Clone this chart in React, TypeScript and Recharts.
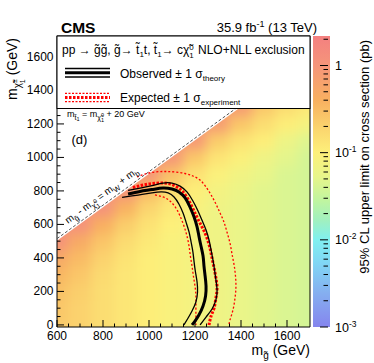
import React from 'react';
import { ComposedChart, XAxis, YAxis, Scatter, Line, Area, Bar, ReferenceLine, ReferenceArea } from 'recharts';

const FONT = "'Liberation Sans', Arial, Helvetica, sans-serif";

// ---------------- axes ----------------
const xMajorTicks = [600, 800, 1000, 1200, 1400, 1600];
const xMinorTicks = [650, 700, 750, 850, 900, 950, 1050, 1100, 1150, 1250, 1300, 1350, 1450, 1500, 1550, 1650];
const yMajorTicks = [0, 200, 400, 600, 800, 1000, 1200, 1400, 1600];
const yMinorTicks = [50, 100, 150, 250, 300, 350, 450, 500, 550, 650, 700, 750, 850, 900, 950, 1050, 1100, 1150, 1250, 1300, 1350, 1450, 1500, 1550, 1650, 1700];
const cbMajorTicks = [0.001, 0.01, 0.1, 1];
const cbMinorTicks = [0.002, 0.003, 0.004, 0.005, 0.006, 0.007, 0.008, 0.009, 0.02, 0.03, 0.04, 0.05, 0.06, 0.07, 0.08, 0.09, 0.2, 0.3, 0.4, 0.5, 0.6, 0.7, 0.8, 0.9, 2];
const cbMajorLabels = ['-3', '-2', '-1', '1'];

// ---------------- colour palette (log10 of limit in pb) ----------------
const paletteLog = [-3, -2.6, -2.25, -2, -1.78, -1.55, -1.27, -1, -0.75, -0.4, 0, 0.34];
const paletteColor = ['#8585EE', '#85B0F0', '#80D8F5', '#80F0F0', '#A0F0C0', '#C0F5A0', '#E8F58A', '#FDF07A', '#FBD870', '#F8B060', '#F5957A', '#F48080'];
const cbRangePb = [0.001, 2.18];

// ---------------- upper-limit map (log10 pb), read at 100 GeV nodes ----------------
const heatX = [600, 700, 800, 900, 1000, 1100, 1200, 1300, 1400, 1500, 1600, 1700];
const heatY = [0, 100, 200, 300, 400, 500, 600, 700, 800, 900, 1000, 1100, 1200, 1300];
const heatLog10: (number | null)[][] = [
  [-0.62, -0.7, -0.8, -0.9, -0.98, -1.05, -1.12, -1.18, -1.25, -1.31, -1.37, -1.42],
  [-0.6, -0.7, -0.8, -0.9, -0.98, -1.05, -1.12, -1.18, -1.25, -1.31, -1.37, -1.42],
  [-0.55, -0.67, -0.8, -0.9, -0.98, -1.05, -1.12, -1.18, -1.25, -1.31, -1.37, -1.42],
  [-0.45, -0.6, -0.77, -0.9, -0.98, -1.05, -1.12, -1.18, -1.25, -1.31, -1.37, -1.42],
  [-0.3, -0.5, -0.7, -0.86, -0.98, -1.05, -1.12, -1.18, -1.25, -1.31, -1.37, -1.42],
  [0.05, -0.33, -0.58, -0.78, -0.93, -1.05, -1.12, -1.18, -1.25, -1.31, -1.37, -1.42],
  [0.05, 0.05, -0.38, -0.65, -0.85, -1.0, -1.12, -1.18, -1.25, -1.31, -1.37, -1.42],
  [0.05, 0.05, 0.03, -0.43, -0.72, -0.92, -1.07, -1.18, -1.25, -1.31, -1.37, -1.42],
  [null, 0.05, 0.03, 0.0, -0.5, -0.78, -0.98, -1.13, -1.22, -1.31, -1.37, -1.42],
  [null, null, 0.03, 0.0, -0.03, -0.55, -0.84, -1.03, -1.15, -1.26, -1.37, -1.42],
  [null, null, null, 0.0, -0.03, -0.05, -0.6, -0.88, -1.02, -1.18, -1.3, -1.42],
  [null, null, null, null, -0.03, -0.05, -0.08, -0.65, -0.85, -0.98, -1.2, -1.34],
  [null, null, null, null, null, -0.05, -0.08, -0.12, -0.6, -0.8, -0.98, -1.1],
  [null, null, null, null, null, null, -0.08, -0.12, -0.12, -0.62, -0.8, -0.93],
];

// ---------------- kinematic boundary ----------------
const diagX = [600, 1700];
const diagY = [515, 1615];
const wedgeLow = [503, 1603];
const Y_TOP = 1725;
const Y_BOTTOM = -12.5;

// ---------------- contours ----------------
const obsX = [909, 961, 1013, 1061, 1100, 1130, 1157, 1178, 1196, 1209, 1217, 1226, 1235, 1239, 1244, 1248, 1246, 1235, 1217, 1200, 1187];
const obsY = [782, 797, 808, 817, 811, 794, 758, 704, 644, 585, 531, 471, 411, 352, 292, 232, 173, 113, 59, 23, 0];

const obsUpX = [909, 961, 1013, 1061, 1100, 1135, 1165, 1191, 1213, 1230, 1248, 1261, 1270, 1278, 1285, 1291, 1296, 1291, 1274, 1248, 1222];
const obsUpY = [803, 817, 832, 847, 847, 829, 794, 740, 680, 626, 567, 507, 447, 388, 328, 268, 208, 149, 95, 47, 0];

const obsDnX = [883, 926, 970, 1013, 1052, 1083, 1109, 1130, 1148, 1161, 1174, 1183, 1191, 1196, 1202, 1209, 1211, 1204, 1187, 1170, 1152];
const obsDnY = [761, 770, 779, 788, 794, 788, 764, 722, 668, 614, 555, 495, 435, 376, 316, 256, 196, 137, 83, 41, 0];

const expX = [930, 974, 1017, 1061, 1100, 1135, 1161, 1183, 1200, 1217, 1235, 1252, 1265, 1274, 1283, 1291, 1296, 1291, 1283, 1270, 1261];
const expY = [820, 835, 844, 847, 838, 811, 770, 716, 668, 620, 573, 519, 459, 399, 340, 280, 220, 161, 101, 53, 0];

const expUpX = [948, 983, 1026, 1070, 1113, 1157, 1191, 1222, 1248, 1270, 1291, 1309, 1326, 1339, 1352, 1361, 1370, 1376, 1378, 1374, 1365, 1352, 1348];
const expUpY = [883, 901, 913, 916, 913, 904, 889, 865, 823, 776, 722, 668, 614, 555, 489, 423, 358, 292, 226, 161, 89, 29, 0];

const expDnX = [1026, 1061, 1091, 1117, 1135, 1152, 1165, 1174, 1180, 1187, 1193, 1200, 1204, 1204, 1204, 1204];
const expDnY = [776, 764, 740, 698, 650, 591, 531, 471, 411, 352, 292, 232, 173, 113, 53, 0];

// ---------------- helpers ----------------
const LOG_MIN = Math.log10(cbRangePb[0]);
const LOG_MAX = Math.log10(cbRangePb[1]);
const PLOT_W = 253;
const PLOT_H = 291;
const KX = PLOT_W / 1100;
const KY = PLOT_H / (Y_TOP - Y_BOTTOM);

const hexToRgb = (h: string) => [parseInt(h.slice(1, 3), 16), parseInt(h.slice(3, 5), 16), parseInt(h.slice(5, 7), 16)];
function colorFor(v: number): string {
  if (v <= paletteLog[0]) return paletteColor[0];
  for (let i = 1; i < paletteLog.length; i++) {
    if (v <= paletteLog[i]) {
      const t = (v - paletteLog[i - 1]) / (paletteLog[i] - paletteLog[i - 1]);
      const a = hexToRgb(paletteColor[i - 1]);
      const b = hexToRgb(paletteColor[i]);
      const c = a.map((av, k) => Math.round(av + (b[k] - av) * t));
      return `rgb(${c[0]},${c[1]},${c[2]})`;
    }
  }
  return paletteColor[paletteColor.length - 1];
}

const heatCells: any[] = [];
heatY.forEach((y, r) => {
  heatX.forEach((x, c) => {
    const v = heatLog10[r][c];
    if (v === null) return;
    heatCells.push({
      x, y, v, color: colorFor(v),
      edgeL: c === 0, edgeR: c === heatX.length - 1, edgeB: r === 0, edgeT: r === heatY.length - 1,
    });
  });
});

const toPts = (xs: number[], ys: number[]) => xs.map((x, i) => ({ x, y: ys[i] }));
const obsData = toPts(obsX, obsY);
const obsUpData = toPts(obsUpX, obsUpY);
const obsDnData = toPts(obsDnX, obsDnY);
const expData = toPts(expX, expY);
const expUpData = toPts(expUpX, expUpY);
const expDnData = toPts(expDnX, expDnY);
const wedgeData = diagX.map((x, i) => ({ x, band: [wedgeLow[i], Y_TOP] }));
const cbData = [{ name: 'palette', range: [LOG_MIN, LOG_MAX] }];
const cbTickLogs = [...cbMajorTicks, ...cbMinorTicks].map((t) => Math.log10(t));

const renderHeatCell = (p: any) => {
  const d = p.payload;
  const hw = 50 * KX + 0.5;
  const hh = 50 * KY + 0.5;
  const x0 = p.cx - hw - (d.edgeL ? 30 : 0);
  const x1 = p.cx + hw + (d.edgeR ? 30 : 0);
  const y0 = p.cy - hh - (d.edgeT ? 30 : 0);
  const y1 = p.cy + hh + (d.edgeB ? 30 : 0);
  return <rect x={x0} y={y0} width={x1 - x0} height={y1 - y0} fill={d.color} stroke="none" />;
};

const XTick = (p: any) => {
  const v = p.payload.value;
  const major = xMajorTicks.includes(v);
  return (
    <g>
      <line x1={p.x} x2={p.x} y1={p.y} y2={p.y - (major ? 7 : 3.5)} stroke="#000" strokeWidth={1} />
      {major && (
        <text x={p.x} y={p.y + 13.2} textAnchor="middle" fontSize={12} fontFamily={FONT} fill="#000">{v}</text>
      )}
    </g>
  );
};

const YTick = (p: any) => {
  const v = p.payload.value;
  const major = yMajorTicks.includes(v);
  return (
    <g>
      <line x1={p.x} x2={p.x + (major ? 7 : 3.5)} y1={p.y} y2={p.y} stroke="#000" strokeWidth={1} />
      {major && (
        <text x={p.x - 3.5} y={p.y + 3.9} textAnchor="end" fontSize={12} fontFamily={FONT} fill="#000">{v}</text>
      )}
    </g>
  );
};

const CbTick = (p: any) => {
  const v: number = p.payload.value;
  const idx = cbMajorTicks.findIndex((t) => Math.abs(Math.log10(t) - v) < 1e-6);
  const major = idx >= 0;
  const lab = major ? cbMajorLabels[idx] : '';
  return (
    <g>
      <line x1={p.x - 2} x2={p.x - 2 - (major ? 8 : 4.5)} y1={p.y} y2={p.y} stroke="#000" strokeWidth={1} />
      {major && (lab === '1' ? (
        <text x={p.x + 5} y={p.y + 4.5} fontSize={12.5} fontFamily={FONT} fill="#000">1</text>
      ) : (
        <text x={p.x + 5} y={p.y + 4.5} fontSize={12.5} fontFamily={FONT} fill="#000">10<tspan dy={-5} fontSize={8.5}>{lab}</tspan></text>
      ))}
    </g>
  );
};

// gradient stops must be in increasing offset order (top of bar = highest limit)
const gradStops = paletteLog
  .map((l, i) => ({ offset: (LOG_MAX - l) / (LOG_MAX - LOG_MIN), color: paletteColor[i] }))
  .sort((a, b) => a.offset - b.offset);

export default function App() {
  const abs: React.CSSProperties = { position: 'absolute', left: 0, top: 0 };
  return (
    <div style={{ position: 'absolute', left: 0, top: 0, width: 374, height: 363, fontFamily: FONT, background: '#fff' }}>
      <style>{`.heat-layer { filter: blur(6px); }`}</style>

      {/* heat map (bottom layer) */}
      <div style={abs}>
        <ComposedChart width={374} height={363} margin={{ top: 36, right: 64, bottom: 36, left: 57 }}>
          <XAxis type="number" dataKey="x" domain={[600, 1700]} allowDataOverflow hide />
          <YAxis type="number" dataKey="y" domain={[Y_BOTTOM, Y_TOP]} allowDataOverflow hide />
          <Scatter data={heatCells} dataKey="y" className="heat-layer" shape={renderHeatCell} isAnimationActive={false} />
        </ComposedChart>
      </div>

      {/* colour bar */}
      <div style={abs}>
        <ComposedChart width={374} height={363} data={cbData} barCategoryGap={0} barGap={0} margin={{ top: 36, right: 0, bottom: 36, left: 313 }}>
          <defs>
            <linearGradient id="cbGrad" x1="0" y1="0" x2="0" y2="1">
              {gradStops.map((s, i) => (
                <stop key={i} offset={Math.max(0, Math.min(1, s.offset))} stopColor={s.color} />
              ))}
            </linearGradient>
          </defs>
          <XAxis type="category" dataKey="name" hide />
          <YAxis
            type="number" orientation="right" domain={[LOG_MIN, LOG_MAX]} allowDataOverflow
            ticks={cbTickLogs} interval={0} tick={(p: any) => <CbTick {...p} />}
            tickLine={false} axisLine={false} tickSize={0} tickMargin={0} width={44}
          />
          <Bar dataKey="range" fill="url(#cbGrad)" isAnimationActive={false} />
        </ComposedChart>
      </div>

      {/* contours, axes, frame */}
      <div style={abs}>
        <ComposedChart width={374} height={363} margin={{ top: 36, right: 64, bottom: 0, left: 0 }}>
          <Area data={wedgeData} dataKey="band" type="linear" stroke="none" fill="#ffffff" fillOpacity={1} isAnimationActive={false} />
          <ReferenceLine segment={[{ x: diagX[0], y: diagY[0] }, { x: diagX[1], y: diagY[1] }]} stroke="#555" strokeWidth={1} strokeDasharray="3 2" />
          <Line data={expUpData} dataKey="y" type="natural" stroke="#ff0000" strokeWidth={1.3} strokeDasharray="2 2" dot={false} isAnimationActive={false} />
          <Line data={expDnData} dataKey="y" type="natural" stroke="#ff0000" strokeWidth={1.3} strokeDasharray="2 2" dot={false} isAnimationActive={false} />
          <Line data={expData} dataKey="y" type="natural" stroke="#ff0000" strokeWidth={3} strokeDasharray="2.5 1.5" dot={false} isAnimationActive={false} />
          <Line data={obsUpData} dataKey="y" type="natural" stroke="#000" strokeWidth={1.3} dot={false} isAnimationActive={false} />
          <Line data={obsDnData} dataKey="y" type="natural" stroke="#000" strokeWidth={1.3} dot={false} isAnimationActive={false} />
          <Line data={obsData} dataKey="y" type="natural" stroke="#000" strokeWidth={3} dot={false} isAnimationActive={false} />
          <ReferenceArea x1={600} x2={1700} y1={Y_BOTTOM} y2={Y_TOP} fill="none" stroke="#000" strokeWidth={1} />
          <XAxis
            type="number" dataKey="x" domain={[600, 1700]} allowDataOverflow
            ticks={[...xMajorTicks, ...xMinorTicks]} interval={0} tick={(p: any) => <XTick {...p} />}
            tickLine={false} axisLine={false} tickSize={0} tickMargin={0} height={36}
          />
          <YAxis
            type="number" dataKey="y" domain={[Y_BOTTOM, Y_TOP]} allowDataOverflow
            ticks={[...yMajorTicks, ...yMinorTicks]} interval={0} tick={(p: any) => <YTick {...p} />}
            tickLine={false} axisLine={false} tickSize={0} tickMargin={0} width={57}
          />
        </ComposedChart>
      </div>

      {/* overlay: legend, titles, annotations */}
      <svg width={374} height={363} style={{ ...abs, pointerEvents: 'none' }} fontFamily={FONT}>
        <text x={61} y={33} fontSize={15.5} fontWeight="bold" fill="#000">CMS</text>
        <text x={317} y={32} fontSize={13} textAnchor="end" fill="#000">
          35.9 fb<tspan dy={-5} fontSize={9}>-1</tspan><tspan dy={5}> (13 TeV)</tspan>
        </text>

        <rect x={57} y={36} width={253} height={72.5} fill="#fff" stroke="#000" strokeWidth={1} />
        <text x={62} y={54} fontSize={12} fill="#000">
          pp → g̃g̃, g̃→ t̃<tspan dy={3} fontSize={8}>1</tspan><tspan dy={-3}>t, t̃</tspan><tspan dy={3} fontSize={8}>1</tspan><tspan dy={-3}>→ cχ̃</tspan><tspan dy={-4.5} fontSize={8}>0</tspan><tspan dx={-4.5} dy={8} fontSize={8}>1</tspan>
        </text>
        <text x={198} y={54} fontSize={12} fill="#000">NLO+NLL exclusion</text>

        <line x1={65} x2={110} y1={68.5} y2={68.5} stroke="#000" strokeWidth={1.3} />
        <line x1={65} x2={110} y1={72.8} y2={72.8} stroke="#000" strokeWidth={3} />
        <line x1={65} x2={110} y1={77} y2={77} stroke="#000" strokeWidth={1.3} />
        <text x={120} y={77.5} fontSize={12} fill="#000">
          Observed ± 1 σ<tspan dy={3} fontSize={8}>theory</tspan>
        </text>

        <line x1={65} x2={110} y1={93.3} y2={93.3} stroke="#ff0000" strokeWidth={1.3} strokeDasharray="2 1.5" />
        <line x1={65} x2={110} y1={97.4} y2={97.4} stroke="#ff0000" strokeWidth={3} strokeDasharray="2.5 1.5" />
        <line x1={65} x2={110} y1={101.6} y2={101.6} stroke="#ff0000" strokeWidth={1.3} strokeDasharray="2 1.5" />
        <text x={120} y={102} fontSize={12} fill="#000">
          Expected ± 1 σ<tspan dy={3} fontSize={8}>experiment</tspan>
        </text>

        <text x={67} y={117} fontSize={9} fill="#000">
          m<tspan dy={2.5} fontSize={7}>t̃</tspan><tspan dy={1.5} fontSize={5.5}>1</tspan><tspan dy={-4}> = m</tspan><tspan dy={2.5} fontSize={7}>χ̃</tspan><tspan dy={-3} fontSize={5.5}>0</tspan><tspan dx={-3.1} dy={5} fontSize={5.5}>1</tspan><tspan dy={-4.5}> + 20 GeV</tspan>
        </text>
        <text x={71.5} y={144} fontSize={13} fill="#000">(d)</text>

        <g transform="translate(68,224) rotate(-36)">
          <text x={0} y={0} fontSize={10} fill="#000">
            m<tspan dy={3} fontSize={7.5}>g̃</tspan><tspan dy={-3}> - m</tspan><tspan dy={3} fontSize={7.5}>χ̃</tspan><tspan dy={-3.5} fontSize={6}>0</tspan><tspan dx={-3.4} dy={5.5} fontSize={6}>1</tspan><tspan dy={-5}> = m</tspan><tspan dy={3} fontSize={7.5}>W</tspan><tspan dy={-3}> + m</tspan><tspan dy={3} fontSize={7.5}>b</tspan>
          </text>
        </g>

        <text x={310} y={355} fontSize={14} textAnchor="end" fill="#000">
          m<tspan dy={4} fontSize={10}>g̃</tspan><tspan dy={-4}> (GeV)</tspan>
        </text>
        <g transform="translate(17,38) rotate(-90)">
          <text x={0} y={0} fontSize={14} textAnchor="end" fill="#000">
            m<tspan dy={4} fontSize={10}>χ̃</tspan><tspan dy={-4.5} fontSize={7}>±</tspan><tspan dx={-4} dy={8} fontSize={7}>1</tspan><tspan dy={-7.5}> (GeV)</tspan>
          </text>
        </g>
        <g transform="translate(369,40) rotate(-90)">
          <text x={0} y={0} fontSize={13} textAnchor="end" fill="#000">95% CL upper limit on cross section (pb)</text>
        </g>
      </svg>
    </div>
  );
}
